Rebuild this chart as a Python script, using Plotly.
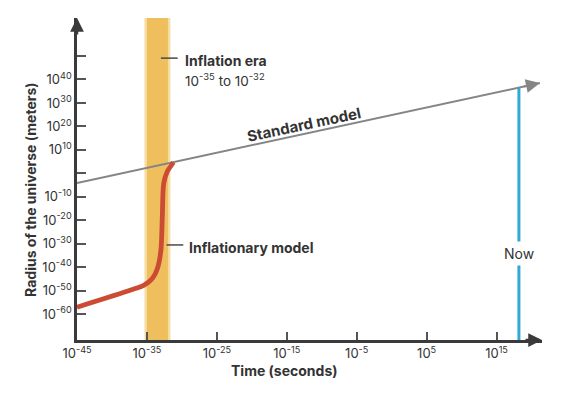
import numpy as np
import plotly.graph_objects as go

# ---- data (log10 values) ----
x_tick_exps = [-45, -35, -25, -15, -5, 5, 15]
y_tick_exps = [50, 40, 30, 20, 10, 0, -10, -20, -30, -40, -50, -60]
y_tick_labelled = [False, True, True, True, True, False, True, True, True, True, True, True]

inflation_start = -35
inflation_end = -32

# inflationary model (log10 time, log10 radius)
infl_t = [-45, -37.3, -35.4, -34.2, -33.5, -33.0, -32.8, -32.6, -32.1, -31.2]
infl_r = [-57.0, -49.7, -47.6, -44.7, -40.5, -32.7, -18.5, -4.3, 0.7, 4.7]

# standard model
std_t = [-45, 21.2]
std_r = [-4.1, 38.5]

now_t = 18.2

x_range = [-45, 21.5]
y_range = [-71.0, 66.2]

FONT = "Inter"
DARK = "#333333"
AXIS = "#3a3a3a"

def sup(e):
    return "10<sup>%d</sup>" % e

fig = go.Figure()

# inflation band (soft edge + core)
fig.add_shape(type="rect", xref="x", yref="paper", x0=inflation_start - 0.35, x1=inflation_end + 0.35,
              y0=0, y1=1, fillcolor="#F6DDA3", line_width=0, layer="below")
fig.add_shape(type="rect", xref="x", yref="paper", x0=inflation_start, x1=inflation_end,
              y0=0, y1=1, fillcolor="#EEBF5C", line_width=0, layer="below")

# standard model line
fig.add_trace(go.Scatter(x=std_t, y=std_r, mode="lines",
                         line=dict(color="#858585", width=2), hoverinfo="skip", showlegend=False))
# now line
now_r = float(np.interp(now_t, std_t, std_r))
fig.add_trace(go.Scatter(x=[now_t, now_t], y=[y_range[0], now_r], mode="lines",
                         line=dict(color="#2FA9D6", width=3), hoverinfo="skip", showlegend=False))
# inflationary model curve
fig.add_trace(go.Scatter(x=infl_t, y=infl_r, mode="lines",
                         line=dict(color="#CC4B33", width=4.8, shape="spline", smoothing=0.8),
                         hoverinfo="skip", showlegend=False))

ann = []
# axis arrowheads
ann.append(dict(x=x_range[1], y=y_range[0], xref="x", yref="y", ax=-18, ay=0, text="",
                showarrow=True, arrowhead=2, arrowsize=1.1, arrowwidth=2.5, arrowcolor=AXIS))
ann.append(dict(x=x_range[0], y=y_range[1], xref="x", yref="y", ax=0, ay=18, text="",
                showarrow=True, arrowhead=2, arrowsize=1.1, arrowwidth=2.5, arrowcolor=AXIS))
# standard model arrowhead
tail_t = std_t[1] - 2.5
ann.append(dict(x=std_t[1], y=std_r[1], xref="x", yref="y",
                ax=tail_t, ay=float(np.interp(tail_t, std_t, std_r)), axref="x", ayref="y", text="",
                showarrow=True, arrowhead=2, arrowsize=1.4, arrowwidth=2, arrowcolor="#858585"))

# labels
ann.append(dict(x=-29.9, y=48.0, xref="x", yref="y", text="<b>Inflation era</b>", showarrow=False,
                xanchor="left", yanchor="middle", font=dict(family=FONT, size=14, color=DARK)))
ann.append(dict(x=-29.9, y=39.6, xref="x", yref="y", text="10<sup>-35</sup> to 10<sup>-32</sup>",
                showarrow=False, xanchor="left", yanchor="middle",
                font=dict(family=FONT, size=13.5, color=DARK)))
ann.append(dict(x=-29.2, y=-31.4, xref="x", yref="y", text="<b>Inflationary model</b>", showarrow=False,
                xanchor="left", yanchor="middle", font=dict(family=FONT, size=14, color=DARK)))
ann.append(dict(x=-12.5, y=21.0, xref="x", yref="y", text="<b>Standard model</b>", showarrow=False,
                textangle=-12, xanchor="center", yanchor="middle",
                font=dict(family=FONT, size=15, color=DARK)))
ann.append(dict(x=now_t, y=-34.0, xref="x", yref="y", text="Now", showarrow=False,
                bgcolor="white", borderpad=3, font=dict(family=FONT, size=14, color=DARK)))

# axis titles
ann.append(dict(x=-0.099, y=0.466, xref="paper", yref="paper", text="<b>Radius of the universe (meters)</b>",
                textangle=-90, showarrow=False, xanchor="center", yanchor="middle",
                font=dict(family=FONT, size=14, color=DARK)))
ann.append(dict(x=-15.3, y=-0.096, xref="x", yref="paper", text="<b>Time (seconds)</b>",
                showarrow=False, xanchor="center", yanchor="middle",
                font=dict(family=FONT, size=14, color=DARK)))

# leader lines
fig.add_shape(type="line", xref="x", yref="y", x0=-33.0, x1=-30.6, y0=49.1, y1=49.1,
              line=dict(color="#4a4a4a", width=1.5))
fig.add_shape(type="line", xref="x", yref="y", x0=-32.2, x1=-29.8, y0=-30.5, y1=-30.5,
              line=dict(color="#4a4a4a", width=1.5))

# page body has an 8px default margin, so the figure is offset by 8px
fig.update_layout(
    width=553, height=381, autosize=False,
    margin=dict(l=69, r=19, t=10, b=49, autoexpand=False),
    plot_bgcolor="white", paper_bgcolor="white",
    showlegend=False,
    annotations=ann,
    font=dict(family=FONT, color=DARK),
    xaxis=dict(range=x_range, showgrid=False, zeroline=False, showline=True, linecolor=AXIS,
               linewidth=2.5, tickmode="array", tickvals=x_tick_exps,
               ticktext=[sup(e) for e in x_tick_exps], ticks="inside", ticklen=8, tickwidth=1.5,
               tickcolor="#555555", tickfont=dict(family=FONT, size=13, color=DARK),
               ticklabelstandoff=0, automargin=False),
    yaxis=dict(range=y_range, showgrid=False, zeroline=False, showline=True, linecolor=AXIS,
               linewidth=2.5, tickmode="array", tickvals=y_tick_exps,
               ticktext=[sup(e) if lab else "" for e, lab in zip(y_tick_exps, y_tick_labelled)],
               ticks="inside", ticklen=9, tickwidth=1.5, tickcolor="#555555",
               tickfont=dict(family=FONT, size=13, color=DARK), ticklabelstandoff=0,
               automargin=False),
)

fig.write_html("out.html")
